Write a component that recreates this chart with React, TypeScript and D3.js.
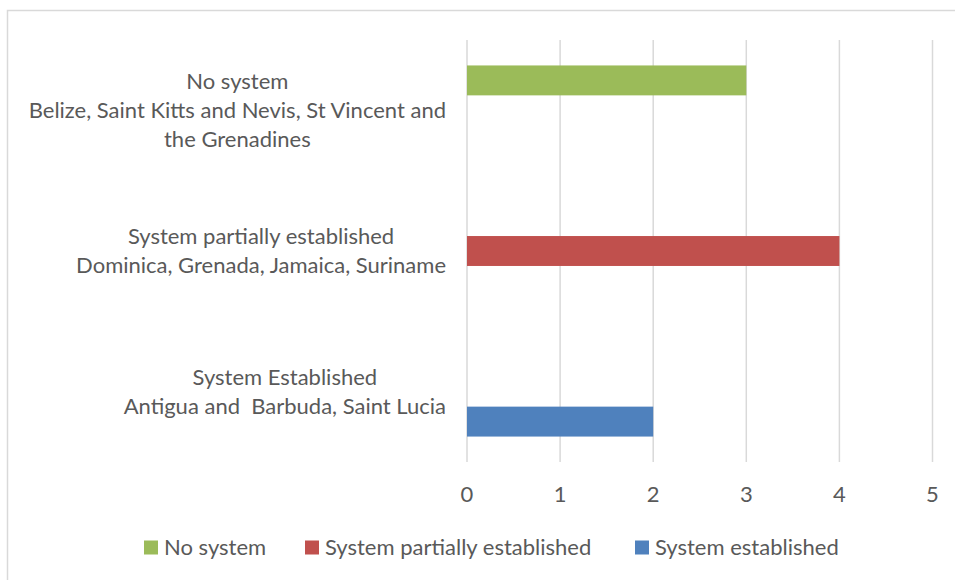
import React, { useEffect, useRef } from "react";
import * as d3 from "d3";

// Category labels, one entry per line, top to bottom
const categoryLines: string[][] = [
  ["No system", "Belize, Saint Kitts and Nevis, St Vincent and", "the Grenadines"],
  ["System partially established", "Dominica, Grenada, Jamaica, Suriname"],
  ["System Established", "Antigua and  Barbuda, Saint Lucia"],
];
const categoryKeys = ["none", "partial", "established"];

const seriesNames = ["No system", "System partially established", "System established"];
const seriesColors = ["#9BBB59", "#C0504D", "#4F81BD"];

// Number of countries per category, for each series
const noSystemValues = [3, 0, 0];
const partialValues = [0, 4, 0];
const establishedValues = [0, 0, 2];
const seriesValues = [noSystemValues, partialValues, establishedValues];

const xTicks = [0, 1, 2, 3, 4, 5];

const W = 955;
const H = 580;
const FONT = "Lato, 'Open Sans', sans-serif";
const FONT_SIZE = 22;
const TEXT = "#595959";

export default function App() {
  const ref = useRef<SVGSVGElement>(null);

  useEffect(() => {
    const svg = d3.select(ref.current);
    svg.selectAll("*").remove();

    const plot = { left: 467, right: 932.5, top: 40, bottom: 462 };

    const x = d3.scaleLinear().domain([0, 5]).range([plot.left, plot.right]);
    const y = d3.scaleBand<string>().domain(categoryKeys).range([plot.top, plot.bottom]).padding(0);
    const inner = d3
      .scaleBand<string>()
      .domain(seriesNames)
      .range([0, y.bandwidth()])
      .paddingInner(0)
      .paddingOuter(0.85);

    // chart frame
    svg
      .append("rect")
      .attr("x", 7.5)
      .attr("y", 10.5)
      .attr("width", W + 20)
      .attr("height", H + 20)
      .attr("fill", "#fff")
      .attr("stroke", "#D9D9D9")
      .attr("stroke-width", 1.5);

    // vertical gridlines
    svg
      .append("g")
      .selectAll("line")
      .data(xTicks)
      .join("line")
      .attr("x1", (d) => x(d))
      .attr("x2", (d) => x(d))
      .attr("y1", plot.top)
      .attr("y2", plot.bottom)
      .attr("stroke", "#D9D9D9")
      .attr("stroke-width", 1.5);

    // bars
    seriesNames.forEach((name, si) => {
      svg
        .append("g")
        .selectAll("rect")
        .data(seriesValues[si].map((v, ci) => ({ v, key: categoryKeys[ci] })))
        .join("rect")
        .attr("x", x(0))
        .attr("y", (d) => (y(d.key) as number) + (inner(name) as number))
        .attr("width", (d) => x(d.v) - x(0))
        .attr("height", inner.bandwidth())
        .attr("fill", seriesColors[si]);
    });

    // x tick labels
    svg
      .append("g")
      .selectAll("text")
      .data(xTicks)
      .join("text")
      .attr("x", (d) => x(d))
      .attr("y", 494)
      .attr("dy", "0.35em")
      .attr("text-anchor", "middle")
      .attr("font-family", FONT)
      .attr("font-size", FONT_SIZE)
      .attr("fill", TEXT)
      .text((d) => d3.format("d")(d));

    // category labels: lines centred inside a block right-aligned against the axis
    const labelRight = 446;
    const lineH = 29;
    categoryLines.forEach((lines, ci) => {
      const g = svg.append("g");
      const texts = g
        .selectAll("text")
        .data(lines)
        .join("text")
        .attr("text-anchor", "middle")
        .attr("font-family", FONT)
        .attr("font-size", FONT_SIZE)
        .attr("fill", TEXT)
        .attr("dy", "0.35em")
        .style("white-space", "pre")
        .text((d) => d);
      let maxW = 0;
      texts.each(function () {
        maxW = Math.max(maxW, (this as SVGTextElement).getComputedTextLength());
      });
      const cy = (y(categoryKeys[ci]) as number) + y.bandwidth() / 2;
      texts
        .attr("x", labelRight - maxW / 2)
        .attr("y", (_d, i) => cy + (i - (lines.length - 1) / 2) * lineH);
    });

    // legend
    const legendX = [144, 305, 635];
    const legend = svg.append("g");
    seriesNames.forEach((name, i) => {
      legend
        .append("rect")
        .attr("x", legendX[i])
        .attr("y", 540.5)
        .attr("width", 14)
        .attr("height", 14)
        .attr("fill", seriesColors[i]);
      legend
        .append("text")
        .attr("x", legendX[i] + 20)
        .attr("y", 547.5)
        .attr("dy", "0.35em")
        .attr("font-family", FONT)
        .attr("font-size", FONT_SIZE)
        .attr("fill", TEXT)
        .text(name);
    });
  }, []);

  return (
    <svg
      ref={ref}
      width={W}
      height={H}
      style={{ position: "absolute", left: 0, top: 0, background: "#fff" }}
    />
  );
}
